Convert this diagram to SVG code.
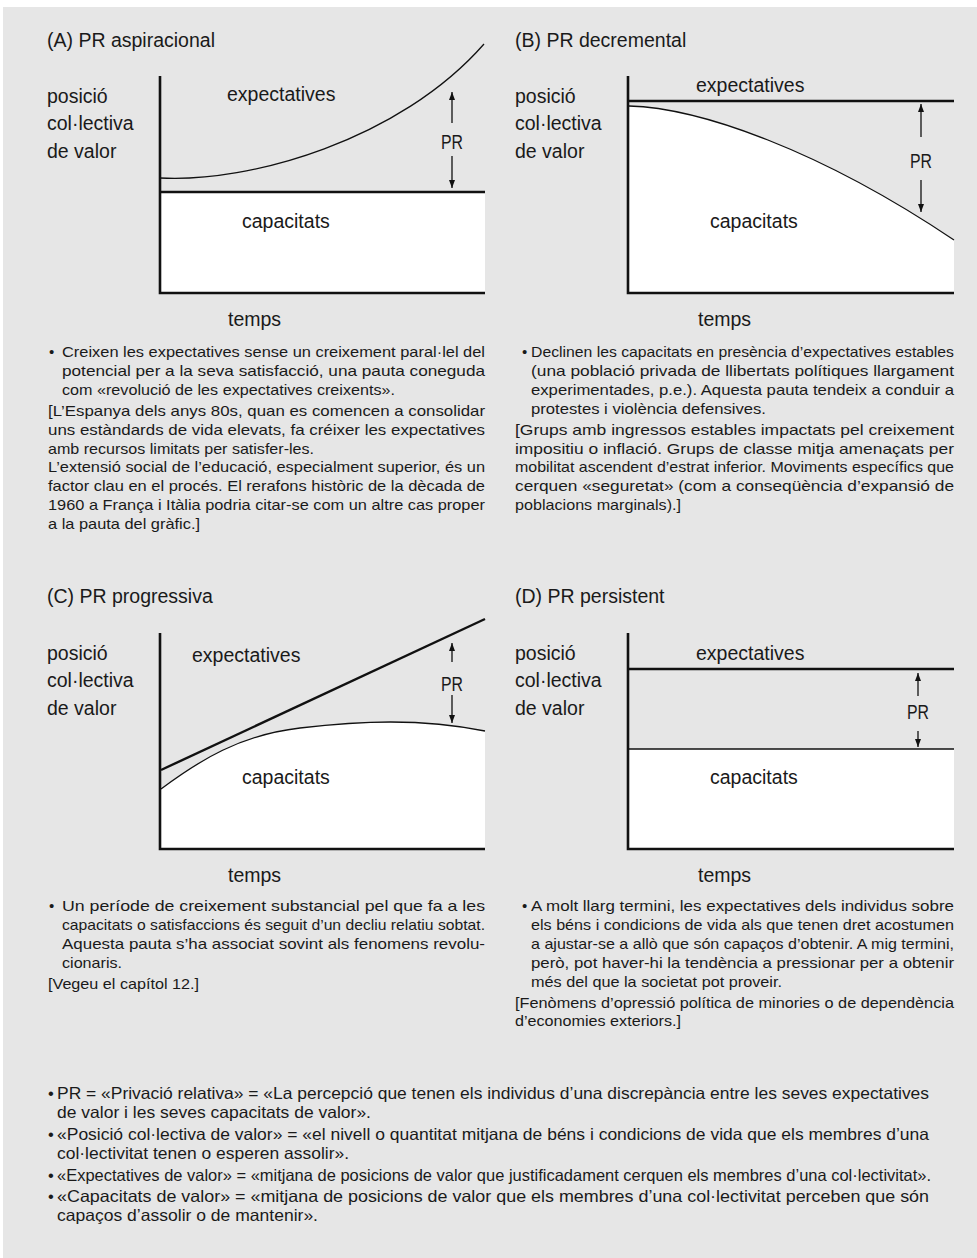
<svg xmlns="http://www.w3.org/2000/svg" width="977" height="1258" viewBox="0 0 977 1258">
<defs>
<marker id="ah" viewBox="0 0 8 6" refX="8" refY="3" markerWidth="8" markerHeight="6" markerUnits="userSpaceOnUse" orient="auto">
<path d="M0,0 L8,3 L0,6 z" fill="#111"/>
</marker>
<style>
.bg{fill:#e6e6e6}
.wh{fill:#fff;stroke:none}
.ax{stroke:#111;stroke-width:2.6;fill:none}
.thick{stroke:#111;stroke-width:2.4;fill:none}
.thin{stroke:#111;stroke-width:1.3;fill:none}
.arr{stroke:#111;stroke-width:1.3;fill:none;marker-end:url(#ah)}
text{font-family:"Liberation Sans",Arial,sans-serif;fill:#1a1a1a}
.lbl{font-size:19.5px}
.body{font-size:15px}
.def{font-size:16.5px}
</style>
</defs>
<rect class="bg" x="3" y="7" width="974" height="1251"/>

<!-- Chart A -->
<g id="chart-a">
<text class="lbl" x="47" y="47">(A) PR aspiracional</text>
<rect class="wh" x="160" y="192" width="325" height="101"/>
<path class="thin" d="M160,178 C250,183 400,140 484,44"/>
<line class="thick" x1="160" y1="192" x2="485" y2="192"/>
<path class="ax" d="M160,76 L160,293 L485,293"/>
<text class="lbl" x="47" y="103">posició</text>
<text class="lbl" x="47" y="130">col·lectiva</text>
<text class="lbl" x="47" y="158">de valor</text>
<text class="lbl" x="227" y="101">expectatives</text>
<text class="lbl" x="242" y="228">capacitats</text>
<text class="lbl" x="441" y="149" textLength="22" lengthAdjust="spacingAndGlyphs">PR</text>
<text class="lbl" x="228" y="326">temps</text>
</g>

<!-- Chart B -->
<g id="chart-b">
<text class="lbl" x="515" y="47">(B) PR decremental</text>
<path class="wh" d="M629,106 C700,108 820,150 954,240 L954,293 L629,293 z"/>
<path class="thin" d="M629,106 C700,108 820,150 954,240"/>
<line class="thick" x1="628" y1="101" x2="954" y2="101"/>
<path class="ax" d="M628,76 L628,293 L954,293"/>
<text class="lbl" x="515" y="103">posició</text>
<text class="lbl" x="515" y="130">col·lectiva</text>
<text class="lbl" x="515" y="158">de valor</text>
<text class="lbl" x="696" y="92">expectatives</text>
<text class="lbl" x="710" y="228">capacitats</text>
<text class="lbl" x="910" y="168" textLength="22" lengthAdjust="spacingAndGlyphs">PR</text>
<text class="lbl" x="698" y="326">temps</text>
</g>

<!-- Chart C -->
<g id="chart-c">
<text class="lbl" x="47" y="603">(C) PR progressiva</text>
<path class="wh" d="M161,789 C200,760 240,735 300,728 C360,721 420,718 485,731 L485,849 L161,849 z"/>
<path class="thin" d="M161,789 C200,760 240,735 300,728 C360,721 420,718 485,731"/>
<line class="thick" x1="161" y1="770" x2="485" y2="619"/>
<path class="ax" d="M160,633 L160,849 L485,849"/>
<text class="lbl" x="47" y="660">posició</text>
<text class="lbl" x="47" y="687">col·lectiva</text>
<text class="lbl" x="47" y="715">de valor</text>
<text class="lbl" x="192" y="662">expectatives</text>
<text class="lbl" x="242" y="784">capacitats</text>
<text class="lbl" x="441" y="691" textLength="22" lengthAdjust="spacingAndGlyphs">PR</text>
<text class="lbl" x="228" y="882">temps</text>
</g>

<!-- Chart D -->
<g id="chart-d">
<text class="lbl" x="515" y="603">(D) PR persistent</text>
<rect class="wh" x="628" y="749" width="326" height="100"/>
<line class="thin" x1="628" y1="749" x2="954" y2="749"/>
<line class="thick" x1="628" y1="669" x2="954" y2="669"/>
<path class="ax" d="M628,633 L628,849 L954,849"/>
<text class="lbl" x="515" y="660">posició</text>
<text class="lbl" x="515" y="687">col·lectiva</text>
<text class="lbl" x="515" y="715">de valor</text>
<text class="lbl" x="696" y="660">expectatives</text>
<text class="lbl" x="710" y="784">capacitats</text>
<text class="lbl" x="907" y="719" textLength="22" lengthAdjust="spacingAndGlyphs">PR</text>
<text class="lbl" x="698" y="882">temps</text>
</g>

<!-- PR arrows -->
<g id="connectors">
<line class="arr" x1="452" y1="123" x2="452" y2="92"/>
<line class="arr" x1="452" y1="156" x2="452" y2="188"/>
<line class="arr" x1="921" y1="137" x2="921" y2="104"/>
<line class="arr" x1="921" y1="180" x2="921" y2="212"/>
<line class="arr" x1="452" y1="662" x2="452" y2="643"/>
<line class="arr" x1="452" y1="695" x2="452" y2="723"/>
<line class="arr" x1="918" y1="696" x2="918" y2="673"/>
<line class="arr" x1="918" y1="731" x2="918" y2="747"/>
</g>

<!-- Text A -->
<g id="text-a">
<text class="body" x="49" y="357">•</text>
<text class="body" x="62" y="357" textLength="423" lengthAdjust="spacingAndGlyphs">Creixen les expectatives sense un creixement paral·lel del</text>
<text class="body" x="62" y="375.9" textLength="423" lengthAdjust="spacingAndGlyphs">potencial per a la seva satisfacció, una pauta coneguda</text>
<text class="body" x="62" y="394.8" textLength="333" lengthAdjust="spacingAndGlyphs">com «revolució de les expectatives creixents».</text>
<text class="body" x="48" y="415.7" textLength="437" lengthAdjust="spacingAndGlyphs">[L’Espanya dels anys 80s, quan es comencen a consolidar</text>
<text class="body" x="48" y="434.6" textLength="437" lengthAdjust="spacingAndGlyphs">uns estàndards de vida elevats, fa créixer les expectatives</text>
<text class="body" x="48" y="453.5" textLength="266" lengthAdjust="spacingAndGlyphs">amb recursos limitats per satisfer-les.</text>
<text class="body" x="48" y="472.4" textLength="437" lengthAdjust="spacingAndGlyphs">L’extensió social de l’educació, especialment superior, és un</text>
<text class="body" x="48" y="491.3" textLength="437" lengthAdjust="spacingAndGlyphs">factor clau en el procés. El rerafons històric de la dècada de</text>
<text class="body" x="48" y="510.2" textLength="437" lengthAdjust="spacingAndGlyphs">1960 a França i Itàlia podria citar-se com un altre cas proper</text>
<text class="body" x="48" y="529.1" textLength="152" lengthAdjust="spacingAndGlyphs">a la pauta del gràfic.]</text>
</g>

<!-- Text B -->
<g id="text-b">
<text class="body" x="522" y="357">•</text>
<text class="body" x="531" y="357" textLength="423" lengthAdjust="spacingAndGlyphs">Declinen les capacitats en presència d’expectatives estables</text>
<text class="body" x="531" y="375.9" textLength="423" lengthAdjust="spacingAndGlyphs">(una població privada de llibertats polítiques llargament</text>
<text class="body" x="531" y="394.8" textLength="423" lengthAdjust="spacingAndGlyphs">experimentades, p.e.). Aquesta pauta tendeix a conduir a</text>
<text class="body" x="531" y="413.7" textLength="235" lengthAdjust="spacingAndGlyphs">protestes i violència defensives.</text>
<text class="body" x="515" y="434.6" textLength="439" lengthAdjust="spacingAndGlyphs">[Grups amb ingressos estables impactats pel creixement</text>
<text class="body" x="515" y="453.5" textLength="439" lengthAdjust="spacingAndGlyphs">impositiu o inflació. Grups de classe mitja amenaçats per</text>
<text class="body" x="515" y="472.4" textLength="439" lengthAdjust="spacingAndGlyphs">mobilitat ascendent d’estrat inferior. Moviments específics que</text>
<text class="body" x="515" y="491.3" textLength="439" lengthAdjust="spacingAndGlyphs">cerquen «seguretat» (com a conseqüència d’expansió de</text>
<text class="body" x="515" y="510.2" textLength="166" lengthAdjust="spacingAndGlyphs">poblacions marginals).]</text>
</g>

<!-- Text C -->
<g id="text-c">
<text class="body" x="49" y="911">•</text>
<text class="body" x="62" y="911" textLength="423" lengthAdjust="spacingAndGlyphs">Un període de creixement substancial pel que fa a les</text>
<text class="body" x="62" y="929.9" textLength="423" lengthAdjust="spacingAndGlyphs">capacitats o satisfaccions és seguit d’un decliu relatiu sobtat.</text>
<text class="body" x="62" y="948.8" textLength="423" lengthAdjust="spacingAndGlyphs">Aquesta pauta s’ha associat sovint als fenomens revolu-</text>
<text class="body" x="62" y="967.7" textLength="60" lengthAdjust="spacingAndGlyphs">cionaris.</text>
<text class="body" x="48" y="988.6" textLength="151" lengthAdjust="spacingAndGlyphs">[Vegeu el capítol 12.]</text>
</g>

<!-- Text D -->
<g id="text-d">
<text class="body" x="522" y="911">•</text>
<text class="body" x="531" y="911" textLength="423" lengthAdjust="spacingAndGlyphs">A molt llarg termini, les expectatives dels individus sobre</text>
<text class="body" x="531" y="929.9" textLength="423" lengthAdjust="spacingAndGlyphs">els béns i condicions de vida als que tenen dret acostumen</text>
<text class="body" x="531" y="948.8" textLength="423" lengthAdjust="spacingAndGlyphs">a ajustar-se a allò que són capaços d’obtenir. A mig termini,</text>
<text class="body" x="531" y="967.7" textLength="423" lengthAdjust="spacingAndGlyphs">però, pot haver-hi la tendència a pressionar per a obtenir</text>
<text class="body" x="531" y="986.6" textLength="251" lengthAdjust="spacingAndGlyphs">més del que la societat pot proveir.</text>
<text class="body" x="515" y="1007.5" textLength="439" lengthAdjust="spacingAndGlyphs">[Fenòmens d’opressió política de minories o de dependència</text>
<text class="body" x="515" y="1026.4" textLength="166" lengthAdjust="spacingAndGlyphs">d’economies exteriors.]</text>
</g>

<!-- Definitions -->
<g id="definitions">
<text class="def" x="48" y="1099">•</text>
<text class="def" x="57" y="1099" textLength="872" lengthAdjust="spacingAndGlyphs">PR = «Privació relativa» = «La percepció que tenen els individus d’una discrepància entre les seves expectatives</text>
<text class="def" x="57" y="1118" textLength="314" lengthAdjust="spacingAndGlyphs">de valor i les seves capacitats de valor».</text>
<text class="def" x="48" y="1140">•</text>
<text class="def" x="57" y="1140" textLength="872" lengthAdjust="spacingAndGlyphs">«Posició col·lectiva de valor» = «el nivell o quantitat mitjana de béns i condicions de vida que els membres d’una</text>
<text class="def" x="57" y="1159" textLength="292" lengthAdjust="spacingAndGlyphs">col·lectivitat tenen o esperen assolir».</text>
<text class="def" x="48" y="1181">•</text>
<text class="def" x="57" y="1181" textLength="874" lengthAdjust="spacingAndGlyphs">«Expectatives de valor» = «mitjana de posicions de valor que justificadament cerquen els membres d’una col·lectivitat».</text>
<text class="def" x="48" y="1202">•</text>
<text class="def" x="57" y="1202" textLength="872" lengthAdjust="spacingAndGlyphs">«Capacitats de valor» = «mitjana de posicions de valor que els membres d’una col·lectivitat perceben que són</text>
<text class="def" x="57" y="1221" textLength="261" lengthAdjust="spacingAndGlyphs">capaços d’assolir o de mantenir».</text>
</g>
</svg>
